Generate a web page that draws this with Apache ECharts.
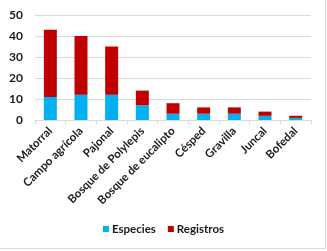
<!DOCTYPE html>
<html><head><meta charset="utf-8">
<script src="https://cdn.jsdelivr.net/npm/echarts@6/dist/echarts.min.js"></script>
<style>html,body{margin:0;padding:0;background:#fff}#c{width:327px;height:251px}</style>
</head><body><div id="c"></div>
<script>
const categories = ['Matorral','Campo agrícola','Pajonal','Bosque de Polylepis','Bosque de eucalipto','Césped','Gravilla','Juncal','Bofedal'];
const especies = [11,12,12,7,3,3,3,2,1];
const registros = [32,28,23,7,5,3,3,2,1];
const yTicks = [0,10,20,30,40,50];

const chart = echarts.init(document.getElementById('c'), null, {renderer:'canvas'});
const font = 'Lato, "Open Sans", sans-serif';
chart.setOption({
  animation:false,
  textStyle:{fontFamily:font},
  grid:{left:35,right:16,top:15,bottom:131,containLabel:false},
  legend:{
    data:['Especies','Registros'],
    bottom:11,left:'center',
    itemWidth:6,itemHeight:6,itemGap:12,
    icon:'rect',
    textStyle:{fontFamily:font,fontWeight:'bold',fontSize:11.5,color:'#1a1a1a',padding:[0,0,0,-2]}
  },
  xAxis:{
    type:'category',data:categories,
    axisLine:{lineStyle:{color:'#d9d9d9'}},
    axisTick:{show:true,length:4,lineStyle:{color:'#d9d9d9'},alignWithLabel:false},
    axisLabel:{rotate:45,interval:0,margin:9,fontFamily:font,fontWeight:'bold',fontSize:11.5,color:'#1a1a1a'}
  },
  yAxis:{
    type:'value',min:yTicks[0],max:yTicks[yTicks.length-1],interval:10,
    axisLine:{show:false},axisTick:{show:false},
    splitLine:{lineStyle:{color:'#d9d9d9'}},
    axisLabel:{margin:12,fontFamily:font,fontWeight:'bold',fontSize:12,color:'#1a1a1a'}
  },
  series:[
    {name:'Especies',type:'bar',stack:'t',data:especies,barWidth:13,itemStyle:{color:'#00B0F0'}},
    {name:'Registros',type:'bar',stack:'t',data:registros,barWidth:13,itemStyle:{color:'#C00000'}}
  ],
  graphic:[
    {type:'line',shape:{x1:325.5,y1:0,x2:325.5,y2:248.5},style:{stroke:'#d9d9d9',lineWidth:1}},
    {type:'line',shape:{x1:0,y1:248.5,x2:325.5,y2:248.5},style:{stroke:'#d9d9d9',lineWidth:1}}
  ]
});
</script></body></html>
